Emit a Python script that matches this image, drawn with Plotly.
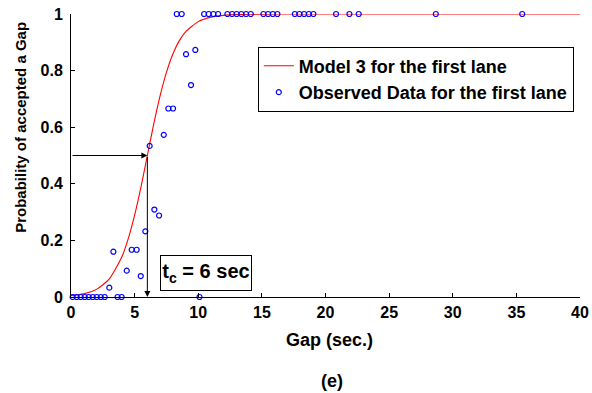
import plotly.graph_objects as go

# Observed gap acceptance (first lane)
gap_obs = [0.13, 0.45, 0.76, 1.08, 1.39, 1.71, 2.02, 2.34, 2.65, 3.01, 3.33, 3.66, 3.98,
           4.38, 4.77, 5.16, 5.48, 5.84, 6.18, 6.55, 6.92, 7.29, 7.65, 8.02, 8.31, 8.70,
           9.04, 9.43, 9.77, 10.10, 10.46, 10.82, 11.19, 11.56, 12.29, 12.66, 13.02, 13.39,
           13.76, 14.13, 15.12, 15.49, 15.86, 16.22, 17.59, 17.95, 18.32, 18.69, 19.05,
           20.83, 21.88, 22.61, 28.67, 35.46]
prob_obs = [0, 0, 0, 0, 0, 0, 0, 0, 0, 0.033, 0.16, 0, 0,
            0.093, 0.167, 0.167, 0.074, 0.232, 0.534, 0.309, 0.288, 0.573, 0.666, 0.666, 1, 1,
            0.858, 0.749, 0.873, 0, 1, 1, 1, 1, 1, 1, 1, 1,
            1, 1, 1, 1, 1, 1, 1, 1, 1, 1, 1,
            1, 1, 1, 1, 1]

# Model 3 fitted curve
model_gap = [0, 1, 2, 3, 4, 4.5, 5, 5.5, 6, 6.5, 7, 7.5, 8, 8.5, 9, 10, 11, 12, 13, 14, 16, 20, 30, 40]
model_prob = [0.005, 0.011, 0.027, 0.063, 0.142, 0.206, 0.289, 0.389, 0.5, 0.611, 0.711, 0.794,
              0.858, 0.905, 0.937, 0.973, 0.989, 0.995, 0.998, 0.999, 1.0, 1.0, 1.0, 1.0]

x_ticks = [0, 5, 10, 15, 20, 25, 30, 35, 40]
y_ticks = [0, 0.2, 0.4, 0.6, 0.8, 1]
y_tick_text = ["0", "0.2", "0.4", "0.6", "0.8", "1"]

t_critical = 6
p_critical = 0.5

FONT = "Liberation Sans, Arial, Helvetica, sans-serif"

fig = go.Figure()
fig.add_trace(go.Scatter(
    x=model_gap, y=model_prob, mode="lines",
    line=dict(color="#ff0000", width=1.1, shape="spline", smoothing=0.6),
    name="Model 3 for the first lane", cliponaxis=False))
fig.add_trace(go.Scatter(
    x=gap_obs, y=prob_obs, mode="markers",
    marker=dict(symbol="circle-open", size=5, color="#0000ff", line=dict(width=1.2, color="#0000ff")),
    name="Observed Data for the first lane", cliponaxis=False))

fig.update_layout(
    width=592, height=393,
    margin=dict(l=71, r=12, t=14, b=96, autoexpand=False),
    paper_bgcolor="white", plot_bgcolor="white",
    font=dict(family=FONT, size=16, color="black", weight="bold"),
    showlegend=True,
    legend=dict(x=0.367, y=0.885, xanchor="left", yanchor="top",
                bgcolor="white", bordercolor="black", borderwidth=1,
                font=dict(family=FONT, size=18, color="black", weight="bold"),
                tracegroupgap=0, itemwidth=30),
    xaxis=dict(range=[0, 40], tickvals=x_ticks, ticks="inside", ticklen=4, tickcolor="black",
               showline=True, linecolor="black", linewidth=1, showgrid=False, zeroline=False,
               tickfont=dict(family=FONT, size=16, color="black", weight="bold"),
               ticklabelstandoff=1),
    yaxis=dict(range=[0, 1], tickvals=y_ticks, ticktext=y_tick_text, ticks="inside", ticklen=4,
               tickcolor="black", showline=True, linecolor="black", linewidth=1, showgrid=False,
               zeroline=False, tickfont=dict(family=FONT, size=16, color="black", weight="bold"),
               ticklabelstandoff=4),
)

annotations = [
    # axis titles and panel label
    dict(text="Gap (sec.)", xref="paper", yref="paper", x=0.508, y=-0.153, xanchor="center",
         yanchor="middle", showarrow=False, font=dict(family=FONT, size=18, weight="bold")),
    dict(text="(e)", xref="paper", yref="paper", x=0.512, y=-0.297, xanchor="center",
         yanchor="middle", showarrow=False, font=dict(family=FONT, size=18, weight="bold")),
    dict(text="Probability of accepted a Gap", xref="paper", yref="paper", x=-0.099, y=0.6,
         xanchor="center", yanchor="middle", textangle=-90, showarrow=False,
         font=dict(family=FONT, size=15, weight="bold")),
    # critical gap arrows
    dict(x=t_critical, y=p_critical, ax=0, ay=p_critical, xref="x", yref="y", axref="x", ayref="y",
         text="", showarrow=True, arrowhead=2, arrowsize=1.2, arrowwidth=1, arrowcolor="black"),
    dict(x=t_critical, y=0, ax=t_critical, ay=p_critical, xref="x", yref="y", axref="x", ayref="y",
         text="", showarrow=True, arrowhead=2, arrowsize=1.2, arrowwidth=1, arrowcolor="black"),
    dict(text="t<sub>c</sub> = 6 sec", x=10.57, y=0.085, xref="x", yref="y", showarrow=False,
         xanchor="center", yanchor="middle", width=88, height=32, align="center",
         bgcolor="white", bordercolor="black", borderwidth=1,
         borderpad=1, font=dict(family=FONT, size=20, weight="bold", color="black")),
]
fig.update_layout(annotations=annotations)

fig.write_html("out.html")
